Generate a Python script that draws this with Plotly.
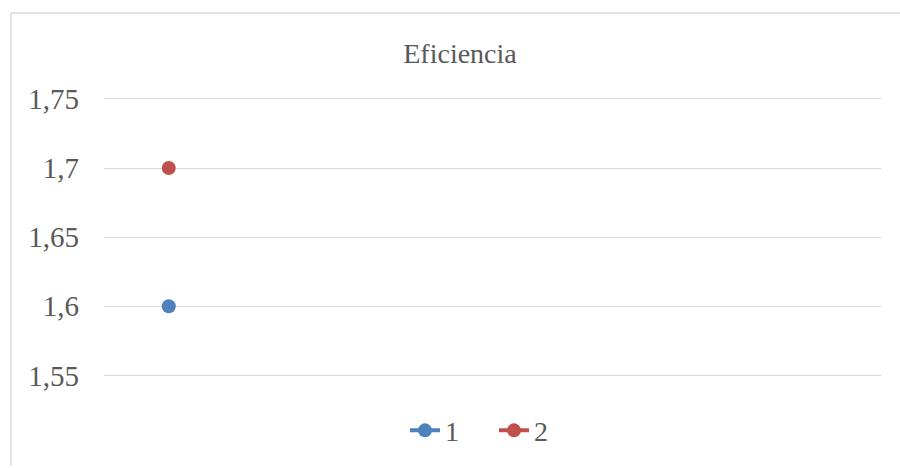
import plotly.graph_objects as go

categories = ["1", "2", "3", "4", "5", "6"]
series_names = ["1", "2"]
series1 = [1.6, None, None, None, None, None]
series2 = [1.7, None, None, None, None, None]
tick_vals = [1.55, 1.6, 1.65, 1.7, 1.75]
tick_text = ["1,55", "1,6", "1,65", "1,7", "1,75"]

colors = ["#4F81BD", "#C0504D"]
font_family = "Liberation Serif, Times New Roman, serif"
text_color = "#595959"

W, H = 900, 468
L, R, T, B = 104, 19, 92, 61
pw, ph = W - L - R, H - T - B

def px_x(px):
    return (px - L) / pw

def px_y(py):
    return (H - B - py) / ph

fig = go.Figure()
for name, vals, col in zip(series_names, [series1, series2], colors):
    fig.add_trace(go.Scatter(
        x=list(range(len(categories))), y=vals, name=name,
        mode="lines+markers",
        line=dict(color=col, width=4),
        marker=dict(color=col, size=14),
    ))

fig.update_layout(
    width=W, height=H,
    margin=dict(l=L, r=R, t=T, b=B),
    paper_bgcolor="white", plot_bgcolor="white",
    title=dict(text="Eficiencia", x=460 / W, xanchor="center",
               y=1 - 53 / H, yanchor="middle",
               font=dict(family=font_family, size=28, color=text_color)),
    font=dict(family=font_family, size=28, color=text_color),
    showlegend=True,
    legend=dict(orientation="h", x=px_x(494), xanchor="center",
                y=px_y(435), yanchor="middle",
                font=dict(family=font_family, size=28, color=text_color),
                itemsizing="trace", tracegroupgap=0, itemwidth=30,
                entrywidth=44, entrywidthmode="pixels"),
    xaxis=dict(range=[-0.5, len(categories) - 0.5], showticklabels=False,
               showgrid=False, zeroline=False, showline=False, ticks=""),
    yaxis=dict(range=[1.53, 1.755], tickvals=tick_vals, ticktext=tick_text,
               showgrid=True, gridcolor="#D9D9D9", gridwidth=1,
               zeroline=False, showline=False, ticks="", ticklabelstandoff=24,
               tickfont=dict(family=font_family, size=29, color=text_color)),
    shapes=[
        dict(type="line", xref="paper", yref="paper",
             x0=px_x(11), x1=px_x(11), y0=px_y(12), y1=px_y(470),
             line=dict(color="#D9D9D9", width=1.5)),
        dict(type="line", xref="paper", yref="paper",
             x0=px_x(11), x1=px_x(902), y0=px_y(12), y1=px_y(12),
             line=dict(color="#D9D9D9", width=1.5)),
    ],
)

fig.write_html("out.html")
